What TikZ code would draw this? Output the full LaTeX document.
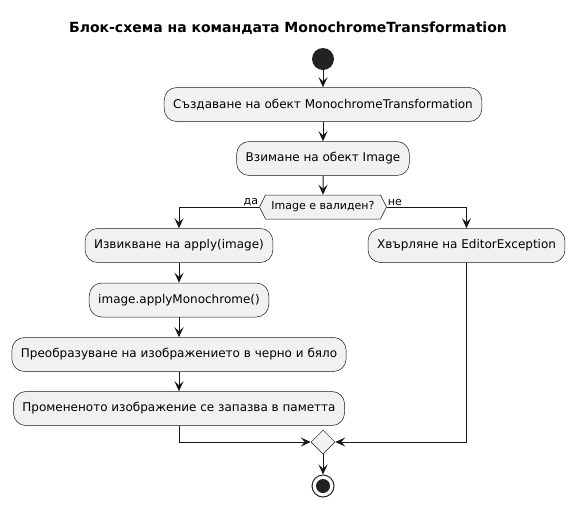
\documentclass[tikz,border=0pt]{standalone}
\usepackage{fontspec}
\setmainfont{DejaVu Sans}
\usetikzlibrary{shapes.geometric,shapes.symbols,arrows.meta}
\definecolor{boxfill}{HTML}{F1F1F1}
\definecolor{ink}{HTML}{181818}
\definecolor{dot}{HTML}{222222}
\begin{document}
\begin{tikzpicture}[x=1pt,y=-1pt,
  act/.style={draw=ink,fill=boxfill,rounded corners=12.5pt,line width=0.5pt,
    minimum height=34pt,inner xsep=9pt,font=\fontsize{12}{14}\selectfont},
  decis/.style={draw=ink,fill=boxfill,line width=0.5pt,shape=signal,
    signal to=west and east,signal pointer angle=127,minimum height=24pt,
    minimum width=127pt,inner xsep=2pt,inner ysep=0pt,font=\fontsize{11}{13}\selectfont},
  merge/.style={draw=ink,fill=boxfill,line width=0.5pt,shape=diamond,
    minimum width=24pt,minimum height=24pt,inner sep=0pt},
  flow/.style={draw=ink,line width=1pt,-{Stealth[length=10pt,width=9pt,inset=4pt]}},
  lbl/.style={font=\fontsize{11}{13}\selectfont,inner sep=1pt}]
\useasboundingbox (0,0) rectangle (576,507);
\node[font=\bfseries\fontsize{14}{16}\selectfont] (title) at (288,28) {Блок-схема на командата MonochromeTransformation};
\node[circle,fill=dot,minimum size=22pt,inner sep=0pt] (start) at (323,59) {};
\node[act] (b1) at (323,104.5) {Създаване на обект MonochromeTransformation};
\node[act] (b2) at (323,158.5) {Взимане на обект Image};
\node[decis] (dec) at (323,207) {Image е валиден?};
\node[act] (b3) at (179,245.5) {Извикване на apply(image)};
\node[act] (b7) at (466.5,245.5) {Хвърляне на EditorException};
\node[act] (b4) at (179,300) {image.applyMonochrome()};
\node[act] (b5) at (179,354.5) {Преобразуване на изображението в черно и бяло};
\node[act] (b6) at (179,408.5) {Промененото изображение се запазва в паметта};
\node[merge] (m) at (323,442) {};
\node[circle,draw=dot,line width=1pt,fill=white,minimum size=22pt,inner sep=0pt] (end) at (323,486) {};
\node[circle,fill=dot,minimum size=14pt,inner sep=0pt] (endin) at (end.center) {};
\draw[flow] (start) -- (b1);
\draw[flow] (b1) -- (b2);
\draw[flow] (b2) -- (dec);
\draw[flow] (dec.west) -| (b3.north);
\draw[flow] (dec.east) -| (b7.north);
\node[lbl,anchor=south east] at (dec.west) {да};
\node[lbl,anchor=south west] at (dec.east) {не};
\draw[flow] (b3) -- (b4);
\draw[flow] (b4) -- (b5);
\draw[flow] (b5) -- (b6);
\draw[flow] (b6.south) |- (m.west);
\draw[flow] (b7.south) |- (m.east);
\draw[flow] (m) -- (end);
\end{tikzpicture}
\end{document}
